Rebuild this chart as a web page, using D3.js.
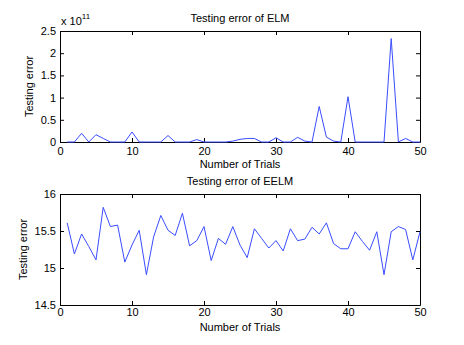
<!DOCTYPE html>
<html>
<head>
<meta charset="utf-8">
<script src="https://cdn.jsdelivr.net/npm/d3@7"></script>
<style>
  body { margin: 0; background: #fff; }
  text { font-family: "Liberation Sans", Arial, sans-serif; fill: #000; }
</style>
</head>
<body>
<script>
const W = 464, H = 345;

// trial numbers 1..50
const trials = d3.range(1, 51);

// testing error of ELM (raw values, shown in units of 1e11)
const elmErr = [
  0, 0, 0.196e11, 0, 0.165e11, 0.08e11, 0, 0, 0, 0.225e11,
  0, 0, 0, 0, 0.145e11, 0, 0, 0, 0.055e11, 0,
  0, 0, 0, 0.02e11, 0.06e11, 0.08e11, 0.08e11, 0, 0, 0.095e11,
  0, 0, 0.105e11, 0.02e11, 0, 0.80e11, 0.11e11, 0.02e11, 0, 1.02e11,
  0, 0, 0, 0, 0, 2.33e11, 0, 0.08e11, 0, 0
];

// testing error of EELM
const eelmErr = [
  15.61, 15.19, 15.46, 15.29, 15.11, 15.82, 15.56, 15.58, 15.08, 15.31,
  15.51, 14.91, 15.42, 15.71, 15.51, 15.44, 15.74, 15.30, 15.37, 15.56,
  15.10, 15.40, 15.32, 15.56, 15.31, 15.14, 15.53, 15.40, 15.27, 15.37,
  15.23, 15.53, 15.37, 15.39, 15.55, 15.46, 15.61, 15.33, 15.26, 15.26,
  15.49, 15.36, 15.24, 15.49, 14.91, 15.49, 15.56, 15.52, 15.11, 15.49
];

const xTicks = [0, 10, 20, 30, 40, 50];
const elmTicks = [0, 0.5e11, 1e11, 1.5e11, 2e11, 2.5e11];
const eelmTicks = [14.5, 15, 15.5, 16];

const svg = d3.select('body').append('svg')
    .attr('width', W)
    .attr('height', H);

const left = 60, right = 420;
const x = d3.scaleLinear().domain([0, 50]).range([left, right]);

function panel(opt) {
  const y = d3.scaleLinear().domain(opt.domain).range([opt.bottom, opt.top]);
  const g = svg.append('g');

  // box + inward ticks on all sides (matlab style)
  const ax = (axis, tx, ty) => {
    const a = g.append('g').attr('transform', `translate(${tx},${ty})`).call(axis);
    a.select('.domain').attr('stroke', '#000').attr('stroke-width', 1);
    a.selectAll('.tick line').attr('stroke', '#000');
    a.selectAll('text').style('font-size', '11px').style('font-family', '"Liberation Sans", Arial, sans-serif');
    return a;
  };
  ax(d3.axisBottom(x).tickValues(xTicks).tickSizeInner(-4).tickSizeOuter(0).tickPadding(opt.xPad), 0, opt.bottom);
  ax(d3.axisTop(x).tickValues(xTicks).tickSizeInner(-4).tickSizeOuter(0).tickFormat(''), 0, opt.top);
  ax(d3.axisLeft(y).tickValues(opt.ticks).tickSizeInner(-4).tickSizeOuter(0).tickPadding(4).tickFormat(opt.fmt), left, 0);
  ax(d3.axisRight(y).tickValues(opt.ticks).tickSizeInner(-4).tickSizeOuter(0).tickFormat(''), right, 0);

  const line = d3.line().x((d, i) => x(trials[i])).y(d => y(d));
  g.append('path').datum(opt.data)
    .attr('d', line)
    .attr('fill', 'none')
    .attr('stroke', '#3a4dff')
    .attr('stroke-width', 1);

  g.append('text').attr('x', (left + right) / 2).attr('y', opt.top - 9)
    .attr('text-anchor', 'middle').style('font-size', '11px').text(opt.title);
  g.append('text').attr('x', (left + right) / 2).attr('y', opt.bottom + 26)
    .attr('text-anchor', 'middle').style('font-size', '11px').text('Number of Trials');
  g.append('text')
    .attr('transform', `translate(${opt.ylabX},${(opt.top + opt.bottom) / 2}) rotate(-90)`)
    .attr('text-anchor', 'middle').style('font-size', '11px').text('Testing error');
  return g;
}

const top1 = panel({
  top: 31, bottom: 142, domain: [0, 2.5e11], ticks: elmTicks,
  fmt: d => d3.format('~g')(d / 1e11), data: elmErr,
  title: 'Testing error of ELM', ylabX: 33, xPad: 5
});
const exp = top1.append('text').attr('x', 61).attr('y', 25).style('font-size', '11px');
exp.append('tspan').text('x 10');
exp.append('tspan').attr('dy', -6).style('font-size', '8px').text('11');

panel({
  top: 194, bottom: 305, domain: [14.5, 16], ticks: eelmTicks,
  fmt: d => d3.format('~g')(d), data: eelmErr,
  title: 'Testing error of EELM', ylabX: 27, xPad: 3
});
</script>
</body>
</html>
